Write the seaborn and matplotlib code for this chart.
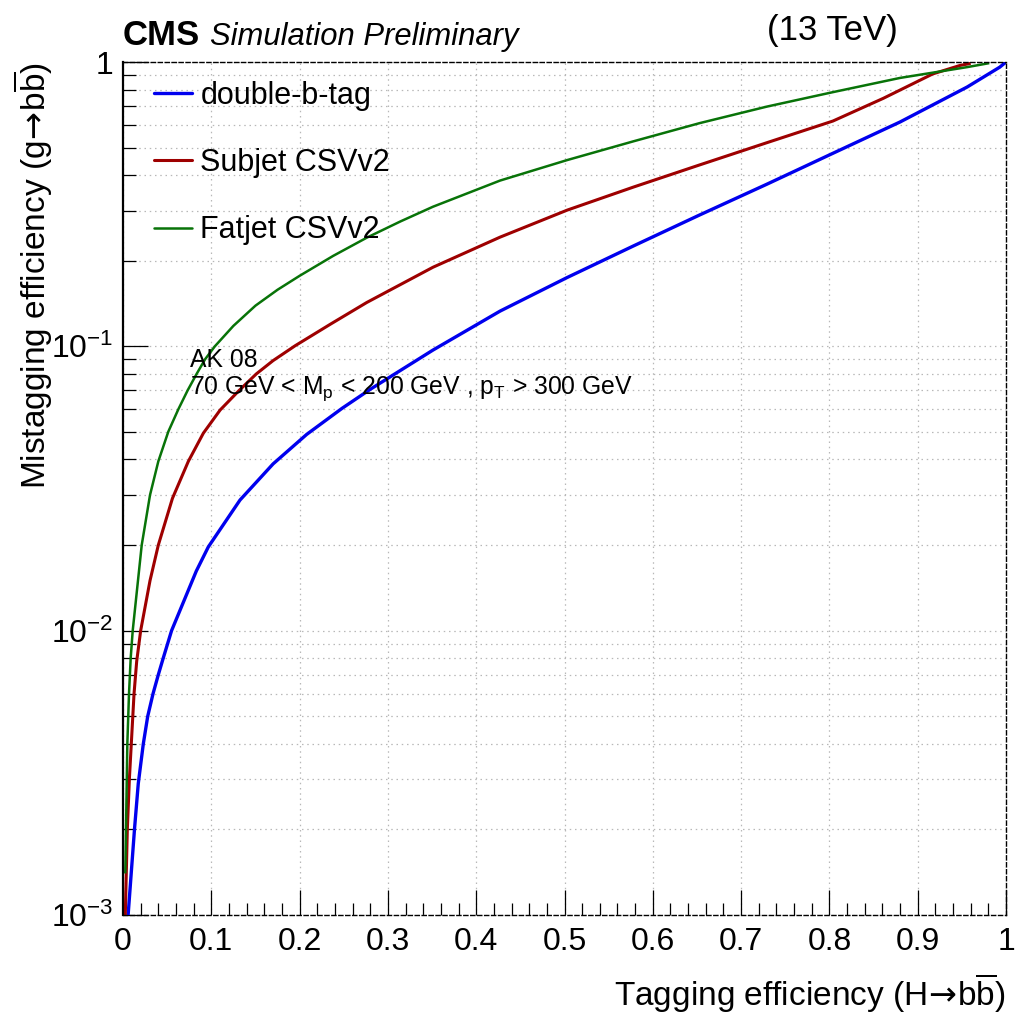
import numpy as np
import pandas as pd
import matplotlib
matplotlib.use("Agg")
import matplotlib.pyplot as plt
from matplotlib.ticker import FixedLocator, MultipleLocator, LogLocator, NullFormatter
import seaborn as sns

sns.set_style("white")
plt.rcParams["font.family"] = ["Liberation Sans", "DejaVu Sans"]
plt.rcParams["mathtext.fontset"] = "custom"
plt.rcParams["mathtext.rm"] = "Liberation Sans"
plt.rcParams["mathtext.it"] = "Liberation Sans:italic"
plt.rcParams["mathtext.bf"] = "Liberation Sans:bold"
plt.rcParams["mathtext.sf"] = "DejaVu Sans"
for key in ["text.color", "axes.labelcolor", "xtick.color", "ytick.color"]:
    plt.rcParams[key] = "black"

# ROC curves: signal efficiency (H->bb) vs. background mistag rate (g->bb)
taggers = ["double-b-tag", "Subjet CSVv2", "Fatjet CSVv2"]

dbt_eff = [0.0058, 0.013, 0.0173, 0.023, 0.028, 0.034, 0.040, 0.045, 0.055, 0.083,
           0.0966, 0.1325, 0.170, 0.208, 0.248, 0.280, 0.351, 0.427, 0.503, 0.578,
           0.653, 0.729, 0.804, 0.880, 0.956, 0.993, 1.0]
dbt_mis = [0.0010, 0.0020, 0.0029, 0.0040, 0.0050, 0.0060, 0.0070, 0.0079, 0.0100, 0.0162,
           0.0197, 0.0288, 0.0386, 0.0490, 0.0605, 0.0706, 0.0970, 0.1330, 0.1746, 0.2254,
           0.2897, 0.3715, 0.4775, 0.6152, 0.8166, 0.9594, 1.0]

sub_eff = [0.0026, 0.0049, 0.0072, 0.0094, 0.0125, 0.0155, 0.020, 0.0306, 0.040, 0.056,
           0.074, 0.091, 0.110, 0.131, 0.151, 0.170, 0.195, 0.235, 0.276, 0.351,
           0.427, 0.503, 0.578, 0.653, 0.729, 0.804, 0.861, 0.917, 0.948, 0.960]
sub_mis = [0.0010, 0.0020, 0.0030, 0.0040, 0.0060, 0.0078, 0.0100, 0.0150, 0.0200, 0.0292,
           0.0394, 0.0495, 0.0597, 0.0697, 0.0800, 0.0891, 0.1005, 0.1197, 0.1426, 0.1897,
           0.2421, 0.3013, 0.3631, 0.4345, 0.5200, 0.6200, 0.7450, 0.9078, 0.9727, 0.9886]

fat_eff = [0.0026, 0.0034, 0.0049, 0.0068, 0.0087, 0.011, 0.0212, 0.0306, 0.040, 0.0513,
           0.0626, 0.0732, 0.0834, 0.0929, 0.104, 0.125, 0.150, 0.175, 0.200, 0.238,
           0.276, 0.314, 0.351, 0.427, 0.503, 0.578, 0.653, 0.729, 0.804, 0.880,
           0.956, 0.981]
fat_mis = [0.0014, 0.0020, 0.0040, 0.0060, 0.0080, 0.0100, 0.0200, 0.0300, 0.0394, 0.0501,
           0.0600, 0.0700, 0.0800, 0.0900, 0.1000, 0.1180, 0.1390, 0.1581, 0.1770, 0.2080,
           0.2410, 0.2748, 0.3097, 0.3828, 0.4519, 0.5260, 0.6095, 0.6966, 0.7834, 0.8790,
           0.9594, 0.9908]

x_ticks = [0, 0.1, 0.2, 0.3, 0.4, 0.5, 0.6, 0.7, 0.8, 0.9, 1]
x_tick_labels = ["0", "0.1", "0.2", "0.3", "0.4", "0.5", "0.6", "0.7", "0.8", "0.9", "1"]
y_ticks = [1e-3, 1e-2, 1e-1, 1]
y_tick_labels = [r"$10^{-3}$", r"$10^{-2}$", r"$10^{-1}$", "1"]

df = pd.concat([
    pd.DataFrame({"eff": dbt_eff, "mis": dbt_mis, "tagger": taggers[0]}),
    pd.DataFrame({"eff": sub_eff, "mis": sub_mis, "tagger": taggers[1]}),
    pd.DataFrame({"eff": fat_eff, "mis": fat_mis, "tagger": taggers[2]}),
], ignore_index=True)

palette = {"double-b-tag": "#0000ee", "Subjet CSVv2": "#9e0000", "Fatjet CSVv2": "#087308"}
widths = {"double-b-tag": 2.4, "Subjet CSVv2": 2.2, "Fatjet CSVv2": 1.8}

fig = plt.figure(figsize=(10.17, 10.15), dpi=100)
ax = fig.add_axes([123 / 1017, 1 - 915 / 1015, 883 / 1017, 853 / 1015])

sns.lineplot(data=df, x="eff", y="mis", hue="tagger", hue_order=taggers,
             palette=palette, estimator=None, sort=False, ax=ax, legend=True)
for line, name in zip(ax.lines, taggers):
    line.set_linewidth(widths[name])
    line.set_solid_joinstyle("round")
    line.set_solid_capstyle("butt")

ax.set_yscale("log")
ax.set_xlim(0, 1)
ax.set_ylim(1e-3, 1)

# axis ticks
ax.xaxis.set_major_locator(FixedLocator(x_ticks))
ax.set_xticklabels(x_tick_labels)
ax.xaxis.set_minor_locator(MultipleLocator(0.02))
ax.yaxis.set_major_locator(FixedLocator(y_ticks))
ax.set_yticklabels(y_tick_labels)
ax.yaxis.set_minor_locator(LogLocator(base=10, subs=np.arange(2, 10)))
ax.yaxis.set_minor_formatter(NullFormatter())
ax.tick_params(axis="both", which="both", direction="in", color="black",
               bottom=True, left=True, top=False, right=False)
ax.tick_params(axis="both", which="major", length=18, width=0.9, labelsize=23)
ax.tick_params(axis="both", which="minor", length=9, width=0.9)
ax.tick_params(axis="x", which="major", pad=9)
ax.tick_params(axis="y", which="major", pad=7)

# grid
ax.grid(True, axis="x", which="major", linestyle=(0, (1.2, 3)), color="#b8b8b8", linewidth=0.9)
ax.grid(True, axis="y", which="both", linestyle=(0, (1.2, 3)), color="#b8b8b8", linewidth=0.9)
ax.set_axisbelow(True)

# frame
for side in ["top", "right", "bottom"]:
    ax.spines[side].set_linestyle((0, (3, 2)))
    ax.spines[side].set_linewidth(1.0)
    ax.spines[side].set_color("black")
ax.spines["left"].set_linewidth(1.6)
ax.spines["left"].set_color("black")

# axis titles
arrow = r"$\!\mathsf{\rightarrow}\!$"
ax.set_xlabel("Tagging efficiency (H" + arrow + r"b$\overline{\rm b}$)", fontsize=24, loc="right")
ax.xaxis.set_label_coords(1.0, -(972 - 915) / 853)
ax.xaxis.label.set_verticalalignment("top")
ax.set_ylabel("Mistagging efficiency (g" + arrow + r"b$\overline{\rm b}$)", fontsize=24, loc="top")
ax.yaxis.set_label_coords(-(123 - 55) / 883, 1.0)

# legend
handles, labels = ax.get_legend_handles_labels()
for h, name in zip(handles, labels):
    h.set_linewidth(widths[name])
ax.legend(handles, labels, loc="upper left", bbox_to_anchor=(0.035, 0.978),
          frameon=False, fontsize=22, handlelength=1.24, handletextpad=0.28,
          labelspacing=1.22, borderpad=0, borderaxespad=0)

# selection annotation
ax.text((190 - 123) / 883, 1 - (360 - 62) / 853, "AK 08", transform=ax.transAxes,
        fontsize=17.8, ha="left", va="center")
ax.text((190 - 123) / 883, 1 - (389 - 62) / 853,
        r"70 GeV < M$_{\rm p}$ < 200 GeV , p$_{\rm T}$ > 300 GeV",
        transform=ax.transAxes, fontsize=17.8, ha="left", va="center")

# header
fig.text(123 / 1017, 1 - 45 / 1015, "CMS", fontsize=25, fontweight="bold", ha="left", va="baseline")
fig.text(210 / 1017, 1 - 45 / 1015, "Simulation Preliminary", fontsize=22.3, fontstyle="italic",
         ha="left", va="baseline")
fig.text(898 / 1017, 1 - 40 / 1015, "(13 TeV)", fontsize=25, ha="right", va="baseline")

fig.savefig("out.png", dpi=100)
